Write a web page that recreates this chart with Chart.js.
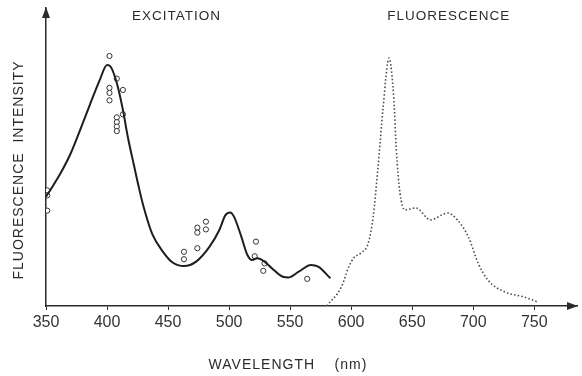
<!DOCTYPE html>
<html>
<head>
<meta charset="utf-8">
<script src="https://cdn.jsdelivr.net/npm/chart.js@4"></script>
<style>
  html, body { margin: 0; padding: 0; background: #fff; }
  #wrap { width: 582px; height: 376px; }
</style>
</head>
<body>
<div id="wrap"><canvas id="spectra" width="582" height="376"></canvas></div>
<script>
// excitation spectrum (solid line), wavelength in nm
var exWavelength = [350, 354, 362, 370, 378, 386, 394, 400, 403, 408, 413, 417, 422, 426, 430, 437, 446, 454, 463, 473, 484, 492, 497, 501, 504, 510, 515, 519, 523, 529, 535, 544, 549, 557, 567, 573, 583];
var exIntensity = [36.7, 39.2, 44.6, 51.0, 59.1, 67.6, 75.8, 80.9, 80.3, 74.8, 65.8, 56.8, 47.3, 39.9, 33.2, 24.2, 18.1, 14.5, 13.4, 14.9, 19.9, 25.5, 30.5, 31.4, 30.0, 23.3, 17.1, 15.4, 16.0, 14.9, 12.7, 9.8, 9.6, 11.5, 13.8, 13.2, 9.3];

// measured excitation points (open circles)
var dotWavelength = [351, 351, 351, 402, 402, 402, 402, 408, 413, 413, 408, 408, 408, 408, 463, 463, 474, 474, 474, 481, 481, 522, 521, 529, 528, 564];
var dotIntensity = [38.8, 37.1, 32.0, 83.9, 73.2, 71.5, 69.0, 76.3, 72.5, 64.3, 63.3, 61.7, 60.2, 58.7, 18.2, 15.7, 26.3, 24.6, 19.4, 28.3, 25.7, 21.6, 16.7, 14.3, 11.8, 9.1];

// fluorescence spectrum (dotted line)
var flWavelength = [580, 592, 598, 602, 608, 614, 618, 622, 626, 631, 635, 637, 640, 644, 653, 665, 679, 687, 696, 704, 712, 726, 742, 753];
var flIntensity = [0, 6.4, 13.1, 16.1, 17.8, 21.1, 29.9, 46.6, 65.8, 83.2, 69.1, 52.3, 37.9, 32.2, 32.9, 28.9, 31.2, 28.9, 23.2, 14.4, 8.7, 4.7, 3.0, 1.3];

var xTicks = [350, 400, 450, 500, 550, 600, 650, 700, 750];
var seriesLabels = ['EXCITATION', 'FLUORESCENCE'];
var seriesLabelAt = [457, 680];
var xTitle = 'WAVELENGTH    (nm)';
var yTitle = 'FLUORESCENCE  INTENSITY';

function toPoints(xs, ys) {
    var pts = [];
    for (var i = 0; i < xs.length; i++) { pts.push({x: xs[i], y: ys[i]}); }
    return pts;
}

var ink = '#2b2b2b';

// arrows on the axes + the hand lettered labels
var annotate = {
    id: 'annotate',
    afterDraw: function(chart) {
        var ctx = chart.ctx;
        var area = chart.chartArea;
        var x = chart.scales.x;
        ctx.save();
        ctx.fillStyle = ink;
        // x arrow
        ctx.beginPath();
        ctx.moveTo(area.right + 1, area.bottom);
        ctx.lineTo(area.right - 10, area.bottom - 4);
        ctx.lineTo(area.right - 10, area.bottom + 4);
        ctx.closePath();
        ctx.fill();
        // y arrow
        ctx.beginPath();
        ctx.moveTo(area.left, area.top - 1);
        ctx.lineTo(area.left - 4, area.top + 10);
        ctx.lineTo(area.left + 4, area.top + 10);
        ctx.closePath();
        ctx.fill();

        ctx.letterSpacing = '1px';
        ctx.textAlign = 'center';
        ctx.textBaseline = 'middle';
        ctx.font = '13.5px "Liberation Sans"';
        for (var i = 0; i < seriesLabels.length; i++) {
            ctx.fillText(seriesLabels[i], x.getPixelForValue(seriesLabelAt[i]), 16);
        }
        ctx.font = '14px "Liberation Sans"';
        ctx.fillText(xTitle, 288, 365);
        ctx.translate(19, 170);
        ctx.rotate(-Math.PI / 2);
        ctx.font = '14px "Liberation Sans"';
        ctx.fillText(yTitle, 0, 0);
        ctx.restore();
    }
};

var ctx = document.getElementById('spectra').getContext('2d');
var chart = new Chart(ctx, {
    type: 'scatter',
    data: {
        datasets: [{
            label: 'excitation',
            data: toPoints(exWavelength, exIntensity),
            showLine: true,
            borderColor: '#1e1e1e',
            borderWidth: 2,
            pointRadius: 0,
            cubicInterpolationMode: 'monotone'
        }, {
            label: 'measured',
            data: toPoints(dotWavelength, dotIntensity),
            showLine: false,
            pointStyle: 'circle',
            pointRadius: 2.6,
            pointBorderWidth: 1,
            pointBorderColor: '#333',
            pointBackgroundColor: '#fff'
        }, {
            label: 'fluorescence',
            data: toPoints(flWavelength, flIntensity),
            showLine: true,
            borderColor: '#4a4a4a',
            borderWidth: 1.6,
            borderDash: [1.5, 2.2],
            pointRadius: 0,
            cubicInterpolationMode: 'monotone'
        }]
    },
    options: {
        responsive: false,
        animation: false,
        layout: { padding: { top: 8, right: 2, left: 0, bottom: 0 } },
        plugins: { legend: { display: false }, tooltip: { enabled: false } },
        scales: {
            x: {
                type: 'linear',
                min: 350,
                max: 785,
                afterBuildTicks: function(scale) {
                    scale.ticks = xTicks.map(function(v) { return {value: v}; });
                },
                afterFit: function(scale) { scale.height = 70; },
                grid: { display: true, drawOnChartArea: false, drawTicks: true, tickLength: 4, color: ink },
                border: { display: true, color: ink, width: 1.5 },
                ticks: {
                    color: '#333',
                    padding: 3,
                    maxRotation: 0,
                    font: { family: 'Liberation Sans', size: 16 }
                }
            },
            y: {
                min: 0,
                max: 100,
                afterFit: function(scale) { scale.width = 46; },
                grid: { display: false },
                border: { display: true, color: ink, width: 1.5 },
                ticks: { display: false }
            }
        }
    },
    plugins: [annotate]
});
</script>
</body>
</html>
